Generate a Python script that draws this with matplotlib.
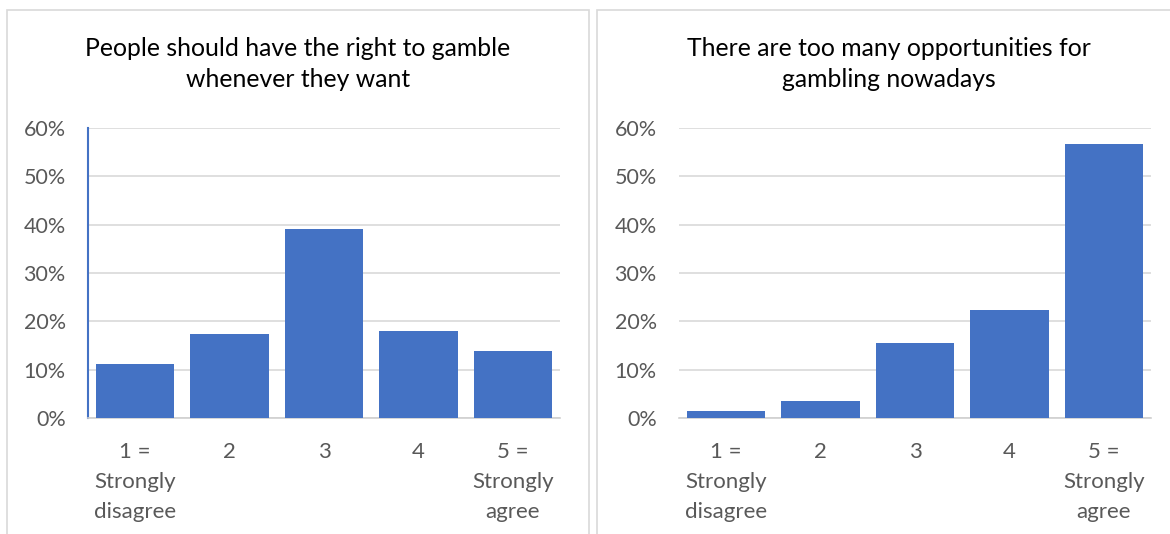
import matplotlib
matplotlib.use("Agg")
import matplotlib.pyplot as plt
from matplotlib.patches import Rectangle
from matplotlib.ticker import PercentFormatter

categories = ["1 =\nStrongly\ndisagree", "2", "3", "4", "5 =\nStrongly\nagree"]
right_to_gamble = [11.2, 17.4, 39.2, 18.1, 13.8]
too_many_opps = [1.5, 3.5, 15.5, 22.4, 56.6]
titles = ["People should have the right to gamble\nwhenever they want",
          "There are too many opportunities for\ngambling nowadays"]
yticks = [0, 10, 20, 30, 40, 50, 60]

BAR = "#4472C4"
GRID = "#d9d9d9"
TICK = "#595959"
FONT = "Lato"

plt.rcParams['font.family'] = [FONT, 'DejaVu Sans']

W, H = 1170, 534
fig = plt.figure(figsize=(W / 100, H / 100), dpi=100)

def fx(px):
    return px / W

def fy(py):
    return 1 - py / H

# panel borders
for x0, x1 in [(7, 589), (597, 1185)]:
    fig.patches.append(Rectangle((fx(x0), fy(560)), fx(x1 - x0), (560 - 10) / H,
                                 transform=fig.transFigure, fill=False,
                                 edgecolor=GRID, linewidth=1.2))

axes_px = [(88, 560), (679, 1151)]
data = [right_to_gamble, too_many_opps]
title_x = [298, 889]

for i, ((x0, x1), vals) in enumerate(zip(axes_px, data)):
    ax = fig.add_axes([fx(x0), fy(418), fx(x1 - x0), (418 - 128) / H])
    xs = range(len(categories))
    ax.bar(xs, vals, width=0.83, color=BAR, zorder=3)
    ax.set_xlim(-0.5, len(categories) - 0.5)
    ax.set_ylim(0, 60)
    ax.set_yticks(yticks)
    ax.yaxis.set_major_formatter(PercentFormatter(decimals=0))
    ax.grid(axis="y", color=GRID, linewidth=1.2, zorder=0)
    ax.set_axisbelow(True)
    for s in ["top", "right"]:
        ax.spines[s].set_visible(False)
    ax.spines["bottom"].set_color("#d0d0d0")
    ax.spines["bottom"].set_linewidth(1.2)
    if i == 0:
        ax.spines["left"].set_color(BAR)
        ax.spines["left"].set_linewidth(1.5)
    else:
        ax.spines["left"].set_visible(False)
    ax.set_xticks(list(xs))
    ax.set_xticklabels(categories, linespacing=1.62, fontsize=16)
    ax.tick_params(axis="both", length=0, colors=TICK)
    ax.tick_params(axis="y", labelsize=15.5, pad=16)
    ax.tick_params(axis="x", pad=17.5)
    fig.text(fx(title_x[i]), fy(64), titles[i], ha="center", va="center",
             fontsize=17.8, color="#000000", linespacing=1.39)

fig.savefig("out.png", dpi=100)
